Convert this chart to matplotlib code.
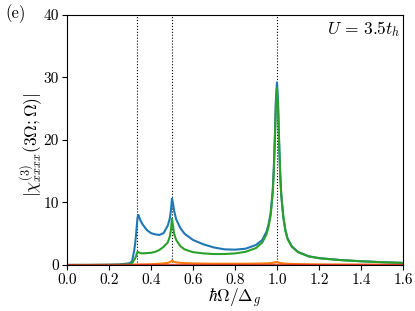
import matplotlib
matplotlib.use('Agg')
import matplotlib.pyplot as plt

plt.rcParams['font.family'] = 'serif'
plt.rcParams['font.serif'] = ['cmr10']
plt.rcParams['mathtext.fontset'] = 'cm'
plt.rcParams['axes.formatter.use_mathtext'] = True

# Frequency grid (hbar Omega / Delta_g)
omega = [0.0, 0.1, 0.2, 0.25, 0.28, 0.30, 0.31, 0.32, 0.325, 0.33, 0.333, 0.336,
         0.34, 0.35, 0.36, 0.38, 0.40, 0.42, 0.44, 0.46, 0.48, 0.49, 0.495, 0.50,
         0.505, 0.51, 0.52, 0.54, 0.56, 0.60, 0.65, 0.70, 0.75, 0.80, 0.85, 0.90,
         0.93, 0.95, 0.96, 0.97, 0.98, 0.985, 0.99, 0.995, 1.0, 1.005, 1.01, 1.015,
         1.02, 1.03, 1.04, 1.05, 1.07, 1.10, 1.15, 1.20, 1.30, 1.40, 1.50, 1.60]

chi_blue = [0.0, 0.01, 0.04, 0.1, 0.2, 0.3, 0.6, 2.3, 3.5, 5.2, 6.5, 7.6,
            8.0, 7.1, 6.5, 5.6, 5.1, 4.9, 4.8, 5.1, 6.3, 7.5, 8.7, 10.6,
            9.8, 8.7, 7.3, 5.9, 5.0, 4.0, 3.3, 2.8, 2.5, 2.45, 2.6, 3.2,
            4.0, 5.3, 6.5, 8.3, 12.0, 15.5, 20.5, 26.5, 29.2, 26.0, 20.0, 15.0,
            11.5, 7.8, 5.6, 4.3, 3.0, 2.1, 1.4, 1.1, 0.8, 0.6, 0.45, 0.33]

chi_orange = [0.0, 0.0, 0.02, 0.03, 0.04, 0.05, 0.05, 0.06, 0.06, 0.07, 0.08, 0.08,
              0.08, 0.08, 0.09, 0.1, 0.12, 0.15, 0.2, 0.25, 0.35, 0.45, 0.55, 0.7,
              0.6, 0.5, 0.42, 0.35, 0.3, 0.25, 0.22, 0.2, 0.2, 0.2, 0.2, 0.22,
              0.24, 0.26, 0.28, 0.3, 0.35, 0.38, 0.42, 0.45, 0.45, 0.42, 0.38, 0.33,
              0.3, 0.25, 0.22, 0.2, 0.17, 0.14, 0.11, 0.09, 0.07, 0.06, 0.05, 0.04]

chi_green = [0.0, 0.0, 0.01, 0.02, 0.05, 0.1, 0.3, 0.8, 1.1, 1.5, 1.9, 2.1,
             2.05, 1.9, 1.85, 1.9, 1.95, 2.1, 2.4, 2.9, 3.6, 4.6, 5.6, 7.4,
             6.3, 5.0, 4.0, 3.0, 2.5, 2.05, 1.85, 1.75, 1.75, 1.85, 2.1, 2.7,
             3.6, 4.9, 6.1, 8.0, 11.6, 15.1, 20.0, 25.8, 28.3, 25.4, 19.6, 14.8,
             11.3, 7.7, 5.5, 4.2, 2.95, 2.05, 1.38, 1.08, 0.78, 0.59, 0.44, 0.32]

chi_red = [0.0, 0.0, 0.0, 0.0, 0.01, 0.01, 0.01, 0.01, 0.01, 0.01, 0.01, 0.01,
           0.01, 0.01, 0.01, 0.01, 0.01, 0.01, 0.01, 0.01, 0.02, 0.02, 0.02, 0.03,
           0.02, 0.02, 0.02, 0.02, 0.02, 0.02, 0.02, 0.02, 0.02, 0.02, 0.02, 0.02,
           0.02, 0.02, 0.02, 0.02, 0.03, 0.03, 0.03, 0.04, 0.04, 0.04, 0.03, 0.03,
           0.03, 0.02, 0.02, 0.02, 0.02, 0.02, 0.01, 0.01, 0.01, 0.01, 0.01, 0.01]

resonances = [1/3, 0.5, 1.0]
xticks = [0.0, 0.2, 0.4, 0.6, 0.8, 1.0, 1.2, 1.4, 1.6]
yticks = [0, 10, 20, 30, 40]

fig = plt.figure(figsize=(4.15, 3.11), dpi=100)
ax = fig.add_axes([0.1614, 0.148, 0.8096, 0.8038])

for r in resonances:
    ax.axvline(r, color='black', linestyle=':', linewidth=0.8)

ax.plot(omega, chi_blue, color='tab:blue', linewidth=1.5)
ax.plot(omega, chi_orange, color='tab:orange', linewidth=1.5)
ax.plot(omega, chi_green, color='tab:green', linewidth=1.5)
ax.plot(omega, chi_red, color='tab:red', linewidth=1.5, alpha=0.8)

ax.set_xlim(0, 1.6)
ax.set_ylim(0, 40)
ax.set_xticks(xticks)
ax.set_yticks(yticks)
ax.set_xticklabels(['%.1f' % t for t in xticks])
ax.set_yticklabels([str(t) for t in yticks])
ax.tick_params(labelsize=11, direction='out', length=3.5, width=0.8, pad=2.5)

ax.set_xlabel(r'$\hbar\Omega/\Delta_g$', fontsize=12.5)
ax.xaxis.set_label_coords(0.5, -0.087)
ax.set_ylabel(r'$|\chi^{(3)}_{xxxx}(3\Omega;\Omega)|$', fontsize=12.5)
ax.yaxis.set_label_coords(-0.066, 0.48)
ax.text(0.993, 0.985, r'$U\,=\,3.5t_h$', transform=ax.transAxes,
        ha='right', va='top', fontsize=12.5)
fig.text(0.012, 0.985, '(e)', ha='left', va='top', fontsize=12)

plt.savefig('out.png', dpi=100)
plt.close()
